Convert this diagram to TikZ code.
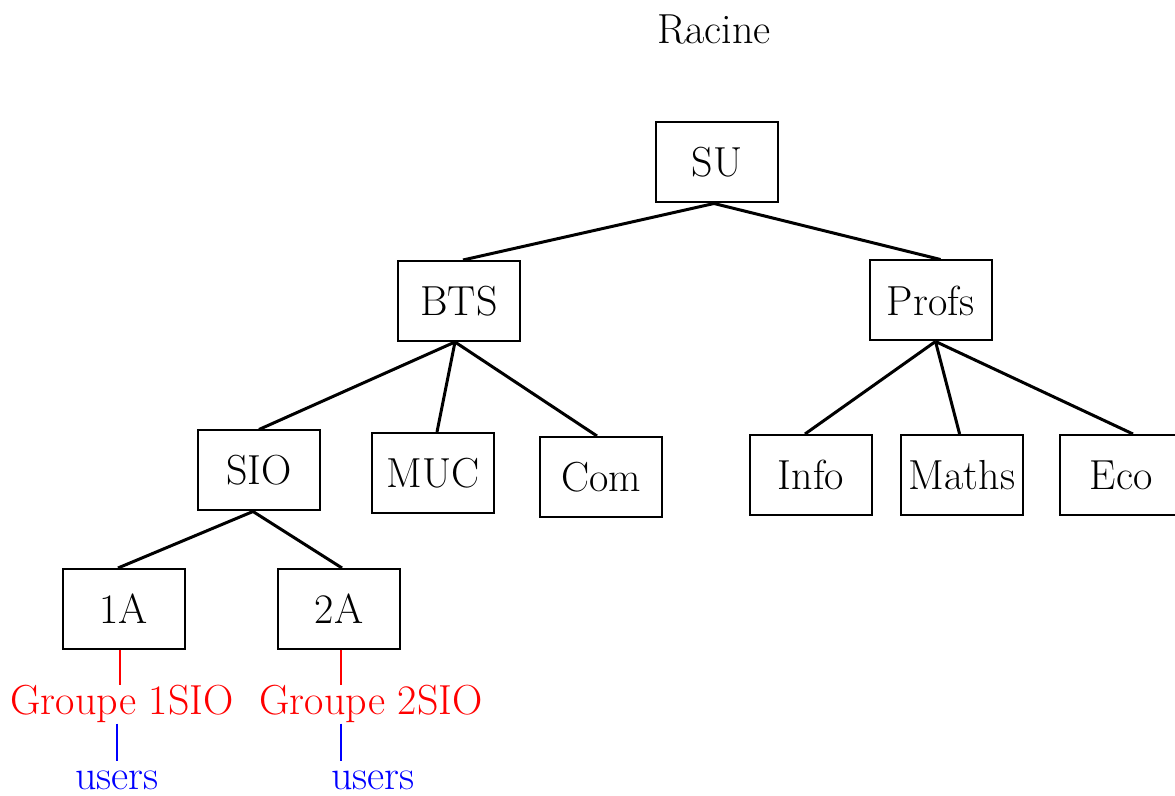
\documentclass[tikz,border=0pt]{standalone}
\usepackage{tikz}
\tikzstyle{dir}=[rectangle,draw=black,line width=1pt,minimum width=61pt,minimum height=40pt,inner sep=0pt,font=\fontsize{21}{25}\selectfont]
\tikzstyle{grp}=[inner sep=0pt,text=red,font=\fontsize{21}{25}\selectfont]
\tikzstyle{usr}=[inner sep=0pt,text=blue,font=\fontsize{21}{25}\selectfont]
\tikzstyle{branch}=[line width=1.5pt]
\usetikzlibrary{positioning}

\begin{document}
\begin{tikzpicture}[x=0.5pt,y=-0.5pt]
            \useasboundingbox (0,0) rectangle (1175,796);
            \clip (0,0) rectangle (1175,796);

            % ROOT PART

            \node[anchor=base,font=\fontsize{21}{25}\selectfont] (racine) at (714,44) {Racine};
            \node[dir] (su) at (717,162.5) {SU};
            \node[dir] (bts) at (459,301) {BTS};
            \node[dir] (profs) at (930.5,300.5) {Profs};

            \path[branch] ([xshift=-1.5pt]su.south) edge ([xshift=2pt]bts.north)
                                                    edge ([xshift=5pt]profs.north);

            % BTS PART

            \node[dir] (sio) at (259,470.5) {SIO};
            \node[dir] (muc) at (433,473) {MUC};
            \node[dir] (com) at (601,477) {Com};

            \path[branch] ([xshift=-2pt]bts.south) edge (sio.north)
                                                   edge ([xshift=2pt]muc.north)
                                                   edge ([xshift=-2pt]com.north);

            % Profs PART

            \node[dir] (info) at (811,475) {Info};
            \node[dir] (maths) at (962,475) {Maths};
            \node[dir] (eco) at (1121,475) {Eco};

            \path[branch] ([xshift=2.5pt]profs.south) edge ([xshift=-3pt]info.north)
                                                      edge ([xshift=-1.2pt]maths.north)
                                                      edge ([xshift=6pt]eco.north);

            % SIO PART

            \node[dir] (a1) at (123.5,609) {1A};
            \node[dir] (a2) at (339,609) {2A};

            \path[branch] ([xshift=-3pt]sio.south) edge ([xshift=-2.75pt]a1.north)
                                                   edge ([xshift=1.5pt]a2.north);

            % Groups and users

            \node[grp,anchor=base] (g1) at (122,715) {Groupe 1SIO};
            \node[grp,anchor=base] (g2) at (371,715) {Groupe 2SIO};
            \node[usr,anchor=base] (u1) at (117,790) {users};
            \node[usr,anchor=base] (u2) at (373,790) {users};

            \path[draw=red,line width=1.3pt] ([xshift=-1.75pt]a1.south) edge ([xshift=-1pt]g1.north);
            \path[draw=red,line width=1.3pt] ([xshift=1pt]a2.south) edge ([xshift=-15pt]g2.north);
            \path[draw=blue,line width=1.3pt] ([xshift=-2.5pt]g1.south) edge ([yshift=5pt]u1.north);
            \path[draw=blue,line width=1.3pt] ([xshift=-15pt]g2.south) edge ([xshift=-16pt,yshift=5pt]u2.north);

        \end{tikzpicture}
\end{document}
